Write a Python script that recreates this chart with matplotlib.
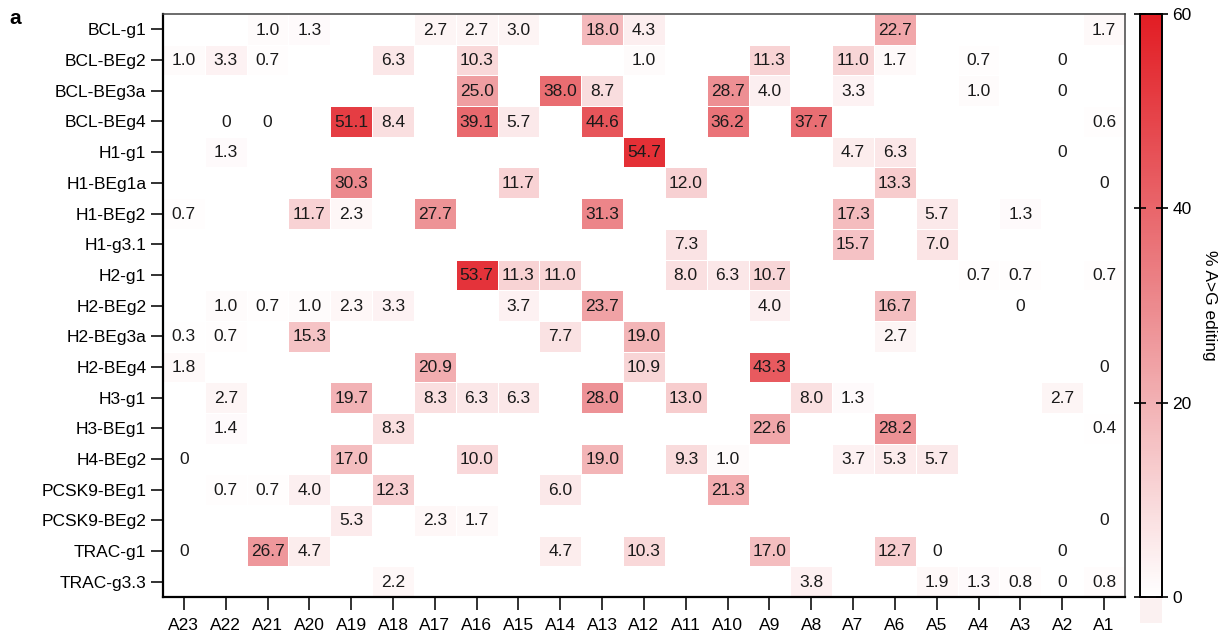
import numpy as np
import matplotlib
matplotlib.use("Agg")
import matplotlib.pyplot as plt
from matplotlib.colors import LinearSegmentedColormap
from matplotlib.patches import Rectangle

plt.rcParams['font.family'] = ['Liberation Sans', 'DejaVu Sans']

_ = np.nan

positions = ['A23', 'A22', 'A21', 'A20', 'A19', 'A18', 'A17', 'A16', 'A15', 'A14', 'A13', 'A12',
             'A11', 'A10', 'A9', 'A8', 'A7', 'A6', 'A5', 'A4', 'A3', 'A2', 'A1']

guides = ['BCL-g1', 'BCL-BEg2', 'BCL-BEg3a', 'BCL-BEg4', 'H1-g1', 'H1-BEg1a', 'H1-BEg2',
          'H1-g3.1', 'H2-g1', 'H2-BEg2', 'H2-BEg3a', 'H2-BEg4', 'H3-g1', 'H3-BEg1', 'H4-BEg2',
          'PCSK9-BEg1', 'PCSK9-BEg2', 'TRAC-g1', 'TRAC-g3.3']

# % A>G editing per guide, columns A23 ... A1 (nan = not shown)
bcl_g1     = [_, _, 1.0, 1.3, _, _, 2.7, 2.7, 3.0, _, 18.0, 4.3, _, _, _, _, _, 22.7, _, _, _, _, 1.7]
bcl_beg2   = [1.0, 3.3, 0.7, _, _, 6.3, _, 10.3, _, _, _, 1.0, _, _, 11.3, _, 11.0, 1.7, _, 0.7, _, 0, _]
bcl_beg3a  = [_, _, _, _, _, _, _, 25.0, _, 38.0, 8.7, _, _, 28.7, 4.0, _, 3.3, _, _, 1.0, _, 0, _]
bcl_beg4   = [_, 0, 0, _, 51.1, 8.4, _, 39.1, 5.7, _, 44.6, _, _, 36.2, _, 37.7, _, _, _, _, _, _, 0.6]
h1_g1      = [_, 1.3, _, _, _, _, _, _, _, _, _, 54.7, _, _, _, _, 4.7, 6.3, _, _, _, 0, _]
h1_beg1a   = [_, _, _, _, 30.3, _, _, _, 11.7, _, _, _, 12.0, _, _, _, _, 13.3, _, _, _, _, 0]
h1_beg2    = [0.7, _, _, 11.7, 2.3, _, 27.7, _, _, _, 31.3, _, _, _, _, _, 17.3, _, 5.7, _, 1.3, _, _]
h1_g3_1    = [_, _, _, _, _, _, _, _, _, _, _, _, 7.3, _, _, _, 15.7, _, 7.0, _, _, _, _]
h2_g1      = [_, _, _, _, _, _, _, 53.7, 11.3, 11.0, _, _, 8.0, 6.3, 10.7, _, _, _, _, 0.7, 0.7, _, 0.7]
h2_beg2    = [_, 1.0, 0.7, 1.0, 2.3, 3.3, _, _, 3.7, _, 23.7, _, _, _, 4.0, _, _, 16.7, _, _, 0, _, _]
h2_beg3a   = [0.3, 0.7, _, 15.3, _, _, _, _, _, 7.7, _, 19.0, _, _, _, _, _, 2.7, _, _, _, _, _]
h2_beg4    = [1.8, _, _, _, _, _, 20.9, _, _, _, _, 10.9, _, _, 43.3, _, _, _, _, _, _, _, 0]
h3_g1      = [_, 2.7, _, _, 19.7, _, 8.3, 6.3, 6.3, _, 28.0, _, 13.0, _, _, 8.0, 1.3, _, _, _, _, 2.7, _]
h3_beg1    = [_, 1.4, _, _, _, 8.3, _, _, _, _, _, _, _, _, 22.6, _, _, 28.2, _, _, _, _, 0.4]
h4_beg2    = [0, _, _, _, 17.0, _, _, 10.0, _, _, 19.0, _, 9.3, 1.0, _, _, 3.7, 5.3, 5.7, _, _, _, _]
pcsk9_beg1 = [_, 0.7, 0.7, 4.0, _, 12.3, _, _, _, 6.0, _, _, _, 21.3, _, _, _, _, _, _, _, _, _]
pcsk9_beg2 = [_, _, _, _, 5.3, _, 2.3, 1.7, _, _, _, _, _, _, _, _, _, _, _, _, _, _, 0]
trac_g1    = [0, _, 26.7, 4.7, _, _, _, _, _, 4.7, _, 10.3, _, _, 17.0, _, _, 12.7, 0, _, _, 0, _]
trac_g3_3  = [_, _, _, _, _, 2.2, _, _, _, _, _, _, _, _, _, 3.8, _, _, 1.9, 1.3, 0.8, 0, 0.8]

data = np.array([bcl_g1, bcl_beg2, bcl_beg3a, bcl_beg4, h1_g1, h1_beg1a, h1_beg2, h1_g3_1,
                 h2_g1, h2_beg2, h2_beg3a, h2_beg4, h3_g1, h3_beg1, h4_beg2, pcsk9_beg1,
                 pcsk9_beg2, trac_g1, trac_g3_3], dtype=float)

cmap = LinearSegmentedColormap.from_list('wr', ['#FFFFFF', '#EC8A8E', '#E21D24'])
cmap.set_bad('white')

fig = plt.figure(figsize=(12.18, 6.35), dpi=100)
ax = fig.add_axes([0.1338, 0.0598, 0.7898, 0.918])
cax = fig.add_axes([0.9360, 0.0598, 0.0181, 0.918])

masked = np.ma.masked_invalid(data)
mesh = ax.pcolormesh(masked, cmap=cmap, vmin=0, vmax=60, edgecolors='white', linewidth=0.6)
ax.set_xlim(0, len(positions))
ax.set_ylim(len(guides), 0)

for i in range(data.shape[0]):
    for j in range(data.shape[1]):
        v = data[i, j]
        if np.isnan(v):
            continue
        txt = '0' if v == 0 else f'{v:.1f}'
        ax.text(j + 0.5, i + 0.52, txt, ha='center', va='center', fontsize=12.5, color='#1a1a1a')

ax.set_xticks(np.arange(len(positions)) + 0.5)
ax.set_xticklabels(positions, fontsize=12.5)
ax.set_yticks(np.arange(len(guides)) + 0.5)
ax.set_yticklabels(guides, fontsize=12.5)
ax.tick_params(axis='both', length=9, width=1.3, color='#222222')
ax.tick_params(axis='x', pad=6)
ax.tick_params(axis='y', pad=3)
for side in ['left', 'bottom']:
    ax.spines[side].set_linewidth(1.6)
for side in ['top', 'right']:
    ax.spines[side].set_linewidth(1.1)
    ax.spines[side].set_color('#444444')

cbar = fig.colorbar(mesh, cax=cax)
cbar.outline.set_linewidth(1.4)
# pale block under the bar (values below 0)
cax.add_patch(Rectangle((0, -0.045), 1, 0.043, transform=cax.transAxes, facecolor='#FBF1F1',
                        edgecolor='none', clip_on=False))
cbar.set_ticks([0, 20, 40, 60])
cbar.ax.tick_params(labelsize=12.5, direction='inout', length=8, width=1.2,
                    left=True, right=True)
cbar.set_label('% A>G editing', rotation=270, fontsize=12.5, labelpad=18)

fig.text(0.008, 0.962, 'a', fontsize=15, fontweight='bold')

fig.savefig('out.png', dpi=100)
